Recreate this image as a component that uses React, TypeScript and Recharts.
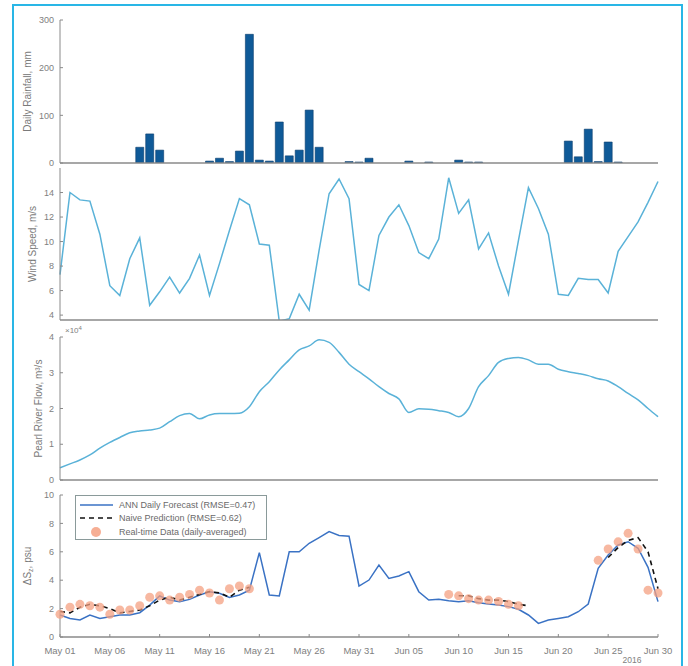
import React from "react";
import { Bar, ComposedChart, Legend, Line, XAxis, YAxis } from "recharts";

// day index 0 = May 01, 60 = Jun 30 (2016)
const tickDays = [0, 5, 10, 15, 20, 25, 30, 35, 40, 45, 50, 55, 60];
const tickLabels = ["May 01", "May 06", "May 11", "May 16", "May 21", "May 26", "May 31", "Jun 05", "Jun 10", "Jun 15", "Jun 20", "Jun 25", "Jun 30"];

const rainfall = [
  0, 0, 0, 0, 0, 0, 0, 0, 33, 61, 27, 0, 0, 0, 0, 4, 10, 3, 25, 270, 6,
  4, 86, 15, 27, 111, 33, 0, 0, 3, 2, 10, 0, 0, 0, 4, 0, 2, 0, 0, 6,
  2, 2, 0, 0, 0, 0, 0, 0, 0, 0, 46, 13, 71, 3, 44, 2, 0, 0, 0, 0,
];

const windSpeed = [
  7.3, 14.0, 13.4, 13.3, 10.6, 6.4, 5.6, 8.6, 10.3, 4.8, 5.9, 7.1, 5.8, 7.0, 8.9, 5.6, 8.2, 10.9, 13.5, 13.0, 9.8,
  9.7, 3.5, 3.7, 5.7, 4.4, 9.3, 13.9, 15.1, 13.5, 6.5, 6.0, 10.5, 12.0, 13.0, 11.3, 9.1, 8.6, 10.2, 15.2, 12.3,
  13.4, 9.4, 10.7, 8.0, 5.7, 10.1, 14.4, 12.7, 10.6, 5.7, 5.6, 7.0, 6.9, 6.9, 5.8, 9.2, 10.4, 11.6, 13.2, 14.9,
];

// x 10^4 m3/s
const riverFlow = [
  0.34, 0.45, 0.56, 0.7, 0.89, 1.05, 1.19, 1.32, 1.37, 1.4, 1.45, 1.63, 1.8, 1.86, 1.71, 1.82, 1.86, 1.86, 1.87, 2.05, 2.47,
  2.75, 3.08, 3.36, 3.64, 3.75, 3.92, 3.85, 3.57, 3.24, 3.03, 2.83, 2.61, 2.42, 2.27, 1.89, 1.99, 1.98, 1.94, 1.89, 1.77,
  2.0, 2.61, 2.92, 3.29, 3.4, 3.43, 3.36, 3.24, 3.24, 3.1, 3.03, 2.98, 2.92, 2.83, 2.77, 2.61, 2.42, 2.24, 2.0, 1.77,
];

const annForecast = [
  1.55, 1.3, 1.2, 1.55, 1.3, 1.43, 1.55, 1.55, 1.71, 2.25, 2.89, 2.6, 2.49, 2.65, 2.96, 3.19, 3.08, 2.79, 2.96, 3.3, 5.94,
  2.96, 2.89, 6.0, 6.0, 6.6, 7.0, 7.42, 7.15, 7.1, 3.59, 4.01, 5.07, 4.13, 4.3, 4.6, 3.19, 2.6, 2.65, 2.56, 2.49,
  2.56, 2.42, 2.32, 2.25, 2.14, 1.95, 1.55, 0.96, 1.2, 1.31, 1.43, 1.78, 2.32, 4.84, 5.77, 6.48, 6.71, 6.25, 4.91, 2.49,
];

const naivePrediction = [
  1.8, 1.7, 2.1, 2.3, 2.2, 2.0, 1.7, 1.8, 1.9, 2.2, 2.6, 2.8, 2.6, 2.8, 3.0, 3.2, 3.1, 2.8, 3.3, 3.5, null,
  null, null, null, null, null, null, null, null, null, null, null, null, null, null, null, null, null, null, null, 2.9,
  2.9, 2.7, 2.6, 2.6, 2.5, 2.3, 2.2, null, null, null, null, null, null, null, 5.6, 6.3, 6.8, 7.0, 6.0, 3.4,
];

const realTime = [
  1.6, 2.1, 2.3, 2.2, 2.1, 1.6, 1.9, 1.9, 2.2, 2.8, 2.9, 2.6, 2.8, 3.0, 3.3, 3.1, 2.6, 3.4, 3.6, 3.4, null,
  null, null, null, null, null, null, null, null, null, null, null, null, null, null, null, null, null, null, 3.0, 2.9,
  2.7, 2.6, 2.6, 2.5, 2.3, 2.2, null, null, null, null, null, null, null, 5.4, 6.2, 6.7, 7.3, 6.2, 3.3, 3.1,
];

const legendLabels = ["ANN Daily Forecast (RMSE=0.47)", "Naive Prediction (RMSE=0.62)", "Real-time Data (daily-averaged)"];

const data = rainfall.map((r, i) => ({
  day: i,
  rain: r,
  wind: windSpeed[i],
  flow: riverFlow[i],
  ann: annForecast[i],
  naive: naivePrediction[i],
  real: realTime[i],
}));

const FONT = "'Liberation Sans', Arial, sans-serif";
const axisColor = "#8a8a8a";
const tickStyle = { fontSize: 9, fill: "#808080", fontFamily: FONT };
const margins = { left: 30, right: 30 };

const yLabel = (text: React.ReactNode, cx: number, extra?: (vb: any) => React.ReactNode) => (props: any) => {
  const vb = props.viewBox;
  const cy = vb.y + vb.height / 2;
  return (
    <g>
      <text x={cx} y={cy} transform={`rotate(-90 ${cx} ${cy})`} textAnchor="middle" dominantBaseline="central"
        fontSize={10} fill="#7a7a7a" fontFamily={FONT}>
        {text}
      </text>
      {extra ? extra(vb) : null}
    </g>
  );
};

const exponent = (vb: any) => (
  <text x={vb.x + vb.width + 5} y={vb.y - 4} fontSize={8} fill="#808080" fontFamily={FONT}>
    ×10<tspan dy={-3} fontSize={6}>4</tspan>
  </text>
);

const yearLabel = (props: any) => {
  const vb = props.viewBox;
  return (
    <text x={vb.x + vb.width - 26} y={vb.y + 26} textAnchor="middle" fontSize={8.5} fill="#808080" fontFamily={FONT}>
      2016
    </text>
  );
};

const yAxisCommon = {
  width: 30,
  tickSize: -3,
  tickMargin: 9,
  tick: tickStyle,
  stroke: axisColor,
  axisLine: { stroke: axisColor },
  tickLine: { stroke: axisColor },
  allowDataOverflow: true,
};

function LegendBox() {
  return (
    <div style={{ width: 192, height: 45, boxSizing: "border-box", border: "1px solid #8a9a9a", background: "#fff", padding: "2px 3px", fontFamily: FONT, fontSize: 9, color: "#6a6a6a" }}>
      {legendLabels.map((label, i) => (
        <div key={label} style={{ display: "flex", alignItems: "center", height: 13.5 }}>
          <svg width={36} height={12} style={{ marginRight: 4 }}>
            {i === 0 && <line x1={1} y1={6} x2={34} y2={6} stroke="#3a72c4" strokeWidth={1.5} />}
            {i === 1 && <line x1={1} y1={6} x2={34} y2={6} stroke="#111" strokeWidth={1.6} strokeDasharray="5 4" />}
            {i === 2 && <circle cx={17} cy={6} r={5} fill="#f4a081" fillOpacity={0.85} />}
          </svg>
          <span>{label}</span>
        </div>
      ))}
    </div>
  );
}

export default function App() {
  return (
    <div style={{ position: "absolute", left: 0, top: 0, width: 688, height: 666, overflow: "hidden", background: "#fff" }}>
      <div style={{ position: "absolute", left: 12, top: 4, width: 671, height: 700, boxSizing: "border-box", border: "2px solid #29b6e6" }} />

      <div style={{ position: "absolute", left: 0, top: 0 }}>
        <ComposedChart width={688} height={175} data={data} margin={{ top: 20, bottom: 11, ...margins }}>
          <XAxis dataKey="day" type="number" domain={[0, 60]} ticks={tickDays} tick={false} tickLine={false} height={1} axisLine={{ stroke: axisColor, strokeWidth: 1.5 }} />
          <YAxis {...yAxisCommon} domain={[0, 300]} ticks={[0, 100, 200, 300]} label={{ content: yLabel("Daily Rainfall, mm", 27) }} />
          <Bar dataKey="rain" barSize={8} fill="#0f5a98" stroke="#0a3c6c" strokeWidth={0.6} isAnimationActive={false} />
        </ComposedChart>
      </div>

      <div style={{ position: "absolute", left: 0, top: 160 }}>
        <ComposedChart width={688} height={170} data={data} margin={{ top: 8, bottom: 9, ...margins }}>
          <XAxis dataKey="day" type="number" domain={[0, 60]} ticks={tickDays} tick={false} tickLine={false} height={1} axisLine={{ stroke: axisColor, strokeWidth: 1.5 }} />
          <YAxis {...yAxisCommon} domain={[3.6, 16]} ticks={[4, 6, 8, 10, 12, 14]} label={{ content: yLabel("Wind Speed, m/s", 32) }} />
          <Line dataKey="wind" type="linear" stroke="#5ab2d8" strokeWidth={1.5} dot={false} isAnimationActive={false} />
        </ComposedChart>
      </div>

      <div style={{ position: "absolute", left: 0, top: 325 }}>
        <ComposedChart width={688} height={165} data={data} margin={{ top: 12, bottom: 9, ...margins }}>
          <XAxis dataKey="day" type="number" domain={[0, 60]} ticks={tickDays} tick={false} tickLine={false} height={1} axisLine={{ stroke: axisColor, strokeWidth: 1.5 }} />
          <YAxis {...yAxisCommon} domain={[0, 4]} ticks={[0, 1, 2, 3, 4]} label={{ content: yLabel("Pearl River Flow, m³/s", 38, exponent) }} />
          <Line dataKey="flow" type="monotone" stroke="#5ab2d8" strokeWidth={1.5} dot={false} isAnimationActive={false} />
        </ComposedChart>
      </div>

      <div style={{ position: "absolute", left: 0, top: 485 }}>
        <ComposedChart width={688} height={181} data={data} margin={{ top: 10, bottom: 4, ...margins }}>
          <XAxis dataKey="day" type="number" domain={[0, 60]} ticks={tickDays} height={25}
            tickFormatter={(v: number) => tickLabels[tickDays.indexOf(v)]}
            tick={{ ...tickStyle, fontSize: 9.5 }} tickSize={-3} tickMargin={13}
            axisLine={{ stroke: axisColor, strokeWidth: 1.5 }} tickLine={{ stroke: axisColor }}
            interval={0} label={{ content: yearLabel }} />
          <YAxis {...yAxisCommon} domain={[0, 10]} ticks={[0, 2, 4, 6, 8, 10]}
            label={{ content: yLabel(<><tspan>ΔS</tspan><tspan dy={2.5} fontSize={7}>z</tspan><tspan dy={-2.5}>, psu</tspan></>, 27) }} />
          <Legend layout="vertical" align="center" verticalAlign="middle" wrapperStyle={{ left: 75, top: 10, width: 192 }} content={() => <LegendBox />} />
          <Line dataKey="real" stroke="none" connectNulls={false} dot={{ r: 4.5, fill: "#f4a081", fillOpacity: 0.75, stroke: "none" }} isAnimationActive={false} />
          <Line dataKey="ann" type="linear" stroke="#3a72c4" strokeWidth={1.5} dot={false} isAnimationActive={false} />
          <Line dataKey="naive" type="linear" stroke="#111" strokeWidth={1.6} strokeDasharray="5 4" connectNulls={false} dot={false} isAnimationActive={false} />
        </ComposedChart>
      </div>
    </div>
  );
}
